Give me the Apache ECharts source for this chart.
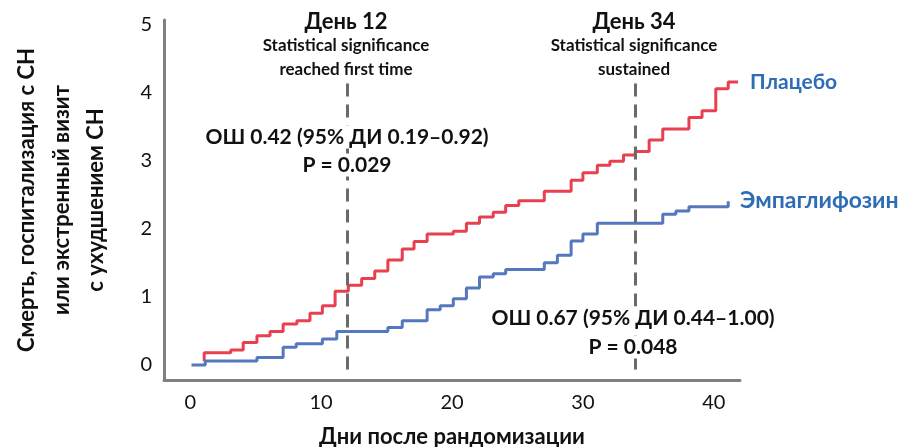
<!DOCTYPE html>
<html>
<head>
<meta charset="utf-8">
<script src="https://cdn.jsdelivr.net/npm/echarts@6/dist/echarts.min.js"></script>
<style>
  html, body { margin: 0; padding: 0; background: #ffffff; }
  #chart { width: 907px; height: 447px; }
</style>
</head>
<body>
<div id="chart"></div>
<script>
// Cumulative events (step curves): day of event and level reached after it
const placeboDays = [1.07, 1.07, 3.1, 4.05, 5.1, 6.1, 7.1, 8.15, 9.15, 10.1, 11.07, 12.08, 13.1, 14.1, 15.1, 16.2, 17.1, 18.1, 20.1, 21.1, 22.1, 23.15, 24.1, 25.1, 27.05, 29.1, 30.0, 31.1, 32.06, 33.1, 34.0, 35.06, 36.1, 38.1, 39.1, 40.15, 41.1, 41.85];
const placeboValues = [0.06, 0.18, 0.22, 0.33, 0.43, 0.49, 0.60, 0.65, 0.76, 0.87, 1.08, 1.17, 1.27, 1.38, 1.54, 1.70, 1.81, 1.92, 1.96, 2.08, 2.17, 2.24, 2.34, 2.41, 2.55, 2.71, 2.82, 2.93, 2.99, 3.08, 3.13, 3.30, 3.46, 3.63, 3.73, 4.05, 4.15, 4.15];

const empaDays = [0.1, 1.15, 5.1, 7.1, 8.1, 10.1, 11.2, 15.1, 16.2, 18.1, 19.1, 20.1, 21.1, 22.1, 23.15, 24.1, 27.05, 28.05, 29.1, 30.0, 31.1, 36.1, 37.1, 38.1, 41.1];
const empaValues = [0, 0.06, 0.11, 0.26, 0.31, 0.38, 0.49, 0.55, 0.65, 0.81, 0.87, 0.97, 1.13, 1.29, 1.34, 1.40, 1.50, 1.61, 1.82, 1.92, 2.08, 2.21, 2.26, 2.32, 2.40];

const seriesNames = ['Плацебо', 'Эмпаглифозин'];
const xTicks = [0, 10, 20, 30, 40];
const yTicks = [0, 1, 2, 3, 4, 5];
const milestoneDays = [12, 34];

const FONT = 'Lato, "Open Sans", sans-serif';
const TEXT = '#111111';
const AXIS = '#808080';
const LABEL_BLUE = '#2e6db4';

const zip = (xs, ys) => xs.map((x, i) => [x, ys[i]]);

const chart = echarts.init(document.getElementById('chart'), null, { renderer: 'canvas' });

function txt(x, y, text, size, extra) {
  const el = {
    type: 'text', x: x, y: y, z: 100, silent: true,
    style: {
      text: text, fill: TEXT, font: 'bold ' + size + 'px ' + FONT,
      textAlign: 'center', textVerticalAlign: 'middle'
    }
  };
  if (extra) {
    if (extra.rotation !== undefined) el.rotation = extra.rotation;
    if (extra.fill) el.style.fill = extra.fill;
    if (extra.align) el.style.textAlign = extra.align;
    if (extra.boxed) {
      // white box so the guide line does not run through the text
      el.style.backgroundColor = '#ffffff';
      el.style.padding = [1, 2];
    }
  }
  return el;
}

const option = {
  animation: false,
  backgroundColor: '#ffffff',
  grid: { left: 164, right: 167, top: 20, bottom: 67 },
  xAxis: {
    type: 'value', min: -2, max: 42,
    axisLine: { onZero: false, lineStyle: { color: AXIS, width: 3 } },
    axisTick: { show: false },
    splitLine: { show: false },
    axisLabel: { customValues: xTicks, fontSize: 20, color: TEXT, fontFamily: FONT, margin: 13 }
  },
  yAxis: {
    type: 'value', min: -0.22, max: 5.06,
    axisLine: { show: true, onZero: false, lineStyle: { color: AXIS, width: 3 } },
    axisTick: { show: false },
    splitLine: { show: false },
    axisLabel: { customValues: yTicks, fontSize: 20, color: TEXT, fontFamily: FONT, margin: 12 }
  },
  series: [
    {
      name: seriesNames[0], type: 'line', step: 'end', symbol: 'none',
      data: zip(placeboDays, placeboValues),
      lineStyle: { color: '#e8404f', width: 3 },
      z: 3,
      markLine: {
        silent: true, symbol: 'none', label: { show: false },
        lineStyle: { color: '#6a6a6a', width: 3, type: [13, 8] },
        data: milestoneDays.map(d => [{ coord: [d, 4.13] }, { coord: [d, -0.1] }])
      }
    },
    {
      name: seriesNames[1], type: 'line', step: 'end', symbol: 'none',
      data: zip(empaDays, empaValues),
      lineStyle: { color: '#5577bd', width: 3 },
      z: 4
    }
  ],
  graphic: [
    // milestone headings
    txt(346, 22, 'День 12', 22),
    txt(346, 46, 'Statistical significance', 17),
    txt(346, 70, 'reached first time', 17),
    txt(634, 22, 'День 34', 22),
    txt(634, 46, 'Statistical significance', 17),
    txt(634, 70, 'sustained', 17),
    // hazard ratios
    txt(347, 137, 'ОШ 0.42 (95% ДИ 0.19–0.92)', 21, { boxed: true }),
    txt(347, 165, 'P = 0.029', 21, { boxed: true }),
    txt(633, 318, 'ОШ 0.67 (95% ДИ 0.44–1.00)', 21, { boxed: true }),
    txt(633, 347, 'P = 0.048', 21, { boxed: true }),
    // series labels
    txt(750, 82, seriesNames[0], 21, { fill: LABEL_BLUE, align: 'left' }),
    txt(740, 201, seriesNames[1], 23, { fill: LABEL_BLUE, align: 'left' }),
    // axis titles
    txt(452, 437, 'Дни после рандомизации', 22),
    txt(27, 200, 'Смерть, госпитализация с СН', 22, { rotation: Math.PI / 2 }),
    txt(62, 200, 'или экстренный визит', 22, { rotation: Math.PI / 2 }),
    txt(96, 200, 'с ухудшением СН', 22, { rotation: Math.PI / 2 })
  ]
};

chart.setOption(option);
</script>
</body>
</html>
